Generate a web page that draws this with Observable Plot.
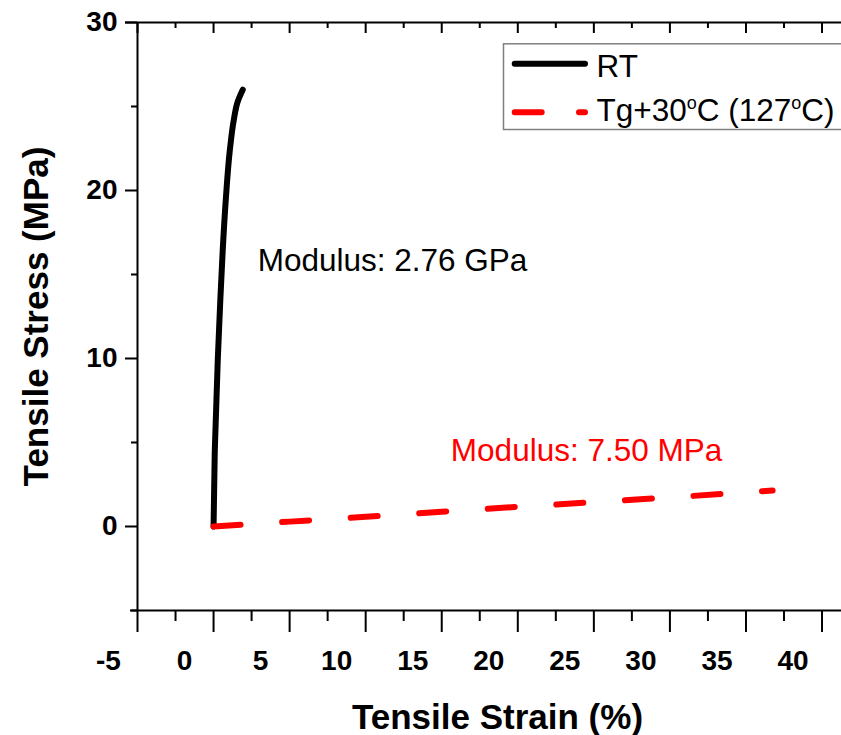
<!DOCTYPE html>
<html>
<head>
<meta charset="utf-8">
<script src="https://cdn.jsdelivr.net/npm/d3@7"></script>
<script src="https://cdn.jsdelivr.net/npm/@observablehq/plot@0.6"></script>
<style>
  html, body { margin: 0; padding: 0; background: #fff; }
  #chart svg { display: block; }
</style>
</head>
<body>
<div id="chart"></div>
<script>
// ---- data ----
const rtStrain = [0, 0.08, 0.28, 0.44, 0.60, 0.80, 1.07, 1.33, 1.59, 1.92];
const rtStress = [0, 4.5, 10.0, 13.4, 16.4, 19.4, 22.4, 24.2, 25.3, 26.0];
const hotStrain = [0, 5, 10, 15, 20, 25, 30, 35, 36.75];
const hotStress = [0, 0.29, 0.58, 0.88, 1.17, 1.45, 1.73, 2.03, 2.14];
const xMajor = [-5, 0, 5, 10, 15, 20, 25, 30, 35, 40];
const xMinor = [-2.5, 2.5, 7.5, 12.5, 17.5, 22.5, 27.5, 32.5, 37.5];
const yMajor = [0, 10, 20, 30];
const yMinor = [-5, 5, 15, 25];
const legendLabels = ["RT", "Tg+30°C (127°C)"];
const annotations = [
  {strain: 2.9, stress: 15.8, label: "Modulus: 2.76 GPa", color: "#000000"},
  {strain: 15.6, stress: 4.5, label: "Modulus: 7.50 MPa", color: "#ff0000"}
];

const rt = rtStrain.map((s, i) => ({strain: s, stress: rtStress[i]}));
const hot = hotStrain.map((s, i) => ({strain: s, stress: hotStress[i]}));

const FONT = "'Liberation Sans', Arial, Helvetica, sans-serif";
const W = 841, H = 735;
const mL = 137, mR = 0, mT = 22, mB = 125;
const fh = H - mT - mB; // frame height

const plot = Plot.plot({
  width: W,
  height: H,
  marginLeft: mL,
  marginRight: mR,
  marginTop: mT,
  marginBottom: mB,
  style: {fontFamily: FONT, background: "#fff", overflow: "visible"},
  x: {domain: [-5, 41.28], axis: null},
  y: {domain: [-5, 30], axis: null},
  marks: [
    // axis lines
    Plot.ruleY([-5], {stroke: "#000", strokeWidth: 2, insetLeft: -7}),
    Plot.ruleY([30], {stroke: "#000", strokeWidth: 2, insetLeft: -12}),
    Plot.ruleX([-5], {stroke: "#000", strokeWidth: 2}),
    // bottom ticks (outward)
    Plot.ruleX(xMajor, {x: d => d, stroke: "#000", strokeWidth: 2, insetTop: fh, insetBottom: -22}),
    Plot.ruleX(xMinor, {x: d => d, stroke: "#000", strokeWidth: 2, insetTop: fh, insetBottom: -11}),
    // top ticks (inward)
    Plot.ruleX(xMajor, {x: d => d, stroke: "#000", strokeWidth: 2, insetBottom: fh - 11}),
    Plot.ruleX(xMinor, {x: d => d, stroke: "#000", strokeWidth: 2, insetBottom: fh - 6}),
    // left ticks (outward)
    Plot.ruleY(yMajor, {y: d => d, stroke: "#000", strokeWidth: 2, insetLeft: -12, insetRight: W - mL - mR}),
    Plot.ruleY(yMinor, {y: d => d, stroke: "#000", strokeWidth: 2, insetLeft: -6, insetRight: W - mL - mR}),
    // tick labels
    Plot.text(xMajor, {x: d => d, text: d => String(d), frameAnchor: "bottom", dy: 51, dx: -29,
      fontSize: 28, fontWeight: "bold", fill: "#000", textAnchor: "middle", lineAnchor: "middle"}),
    Plot.text(yMajor, {y: d => d, text: d => String(d), frameAnchor: "left", dx: -20,
      fontSize: 28, fontWeight: "bold", fill: "#000", textAnchor: "end", lineAnchor: "middle"}),
    // axis titles
    Plot.text(["Tensile Strain (%)"], {text: d => d, frameAnchor: "bottom", dx: 8, dy: 107,
      fontSize: 35, fontWeight: "bold", fill: "#000", textAnchor: "middle", lineAnchor: "middle"}),
    Plot.text(["Tensile Stress (MPa)"], {text: d => d, frameAnchor: "left", dx: -101, rotate: -90,
      fontSize: 35, fontWeight: "bold", fill: "#000", textAnchor: "middle", lineAnchor: "middle"}),
    // data
    Plot.line(rt, {x: "strain", y: "stress", stroke: "#000", strokeWidth: 6,
      strokeLinecap: "round", strokeLinejoin: "round", curve: "monotone-y"}),
    Plot.line(hot, {x: "strain", y: "stress", stroke: "#ff0000", strokeWidth: 6,
      strokeLinecap: "round", strokeDasharray: "27,41.7"}),
    // annotations
    Plot.text(annotations, {x: "strain", y: "stress", text: "label", fill: "color",
      fontSize: 31.5, textAnchor: "start", lineAnchor: "middle"}),
    // legend
    Plot.frame({stroke: "#808080", strokeWidth: 1.5, insetLeft: 366, insetTop: 21.3,
      insetBottom: 481, insetRight: -10}),
    Plot.ruleY([30], {stroke: "#000", strokeWidth: 6, strokeLinecap: "round",
      dy: 41.3, insetLeft: 377.7, insetRight: 256}),
    Plot.ruleY([30], {stroke: "#ff0000", strokeWidth: 6, strokeLinecap: "round",
      strokeDasharray: "27,37.3", dy: 89.7, insetLeft: 377.7, insetRight: 256}),
    Plot.text([legendLabels[0]], {text: d => d, frameAnchor: "top-left", dx: 459, dy: 44.7,
      fontSize: 31.5, fill: "#000", textAnchor: "start", lineAnchor: "middle"}),
    Plot.text([legendLabels[1]], {text: d => d, frameAnchor: "top-left", dx: 459, dy: 88,
      fontSize: 31.5, fill: "#000", textAnchor: "start", lineAnchor: "middle"})
  ]
});

// typeset the degree marks as superscript "o" like the original
const ns = "http://www.w3.org/2000/svg";
plot.querySelectorAll("text").forEach(t => {
  const s = t.textContent;
  if (!s.includes("°")) return;
  const parts = s.split("°");
  while (t.firstChild) t.removeChild(t.firstChild);
  parts.forEach((p, i) => {
    const span = document.createElementNS(ns, "tspan");
    span.textContent = p;
    if (i > 0) span.setAttribute("dy", "12");
    t.appendChild(span);
    if (i < parts.length - 1) {
      const o = document.createElementNS(ns, "tspan");
      o.textContent = "o";
      o.setAttribute("font-size", "18");
      o.setAttribute("dy", "-12");
      t.appendChild(o);
    }
  });
});

document.getElementById("chart").appendChild(plot);
</script>
</body>
</html>
